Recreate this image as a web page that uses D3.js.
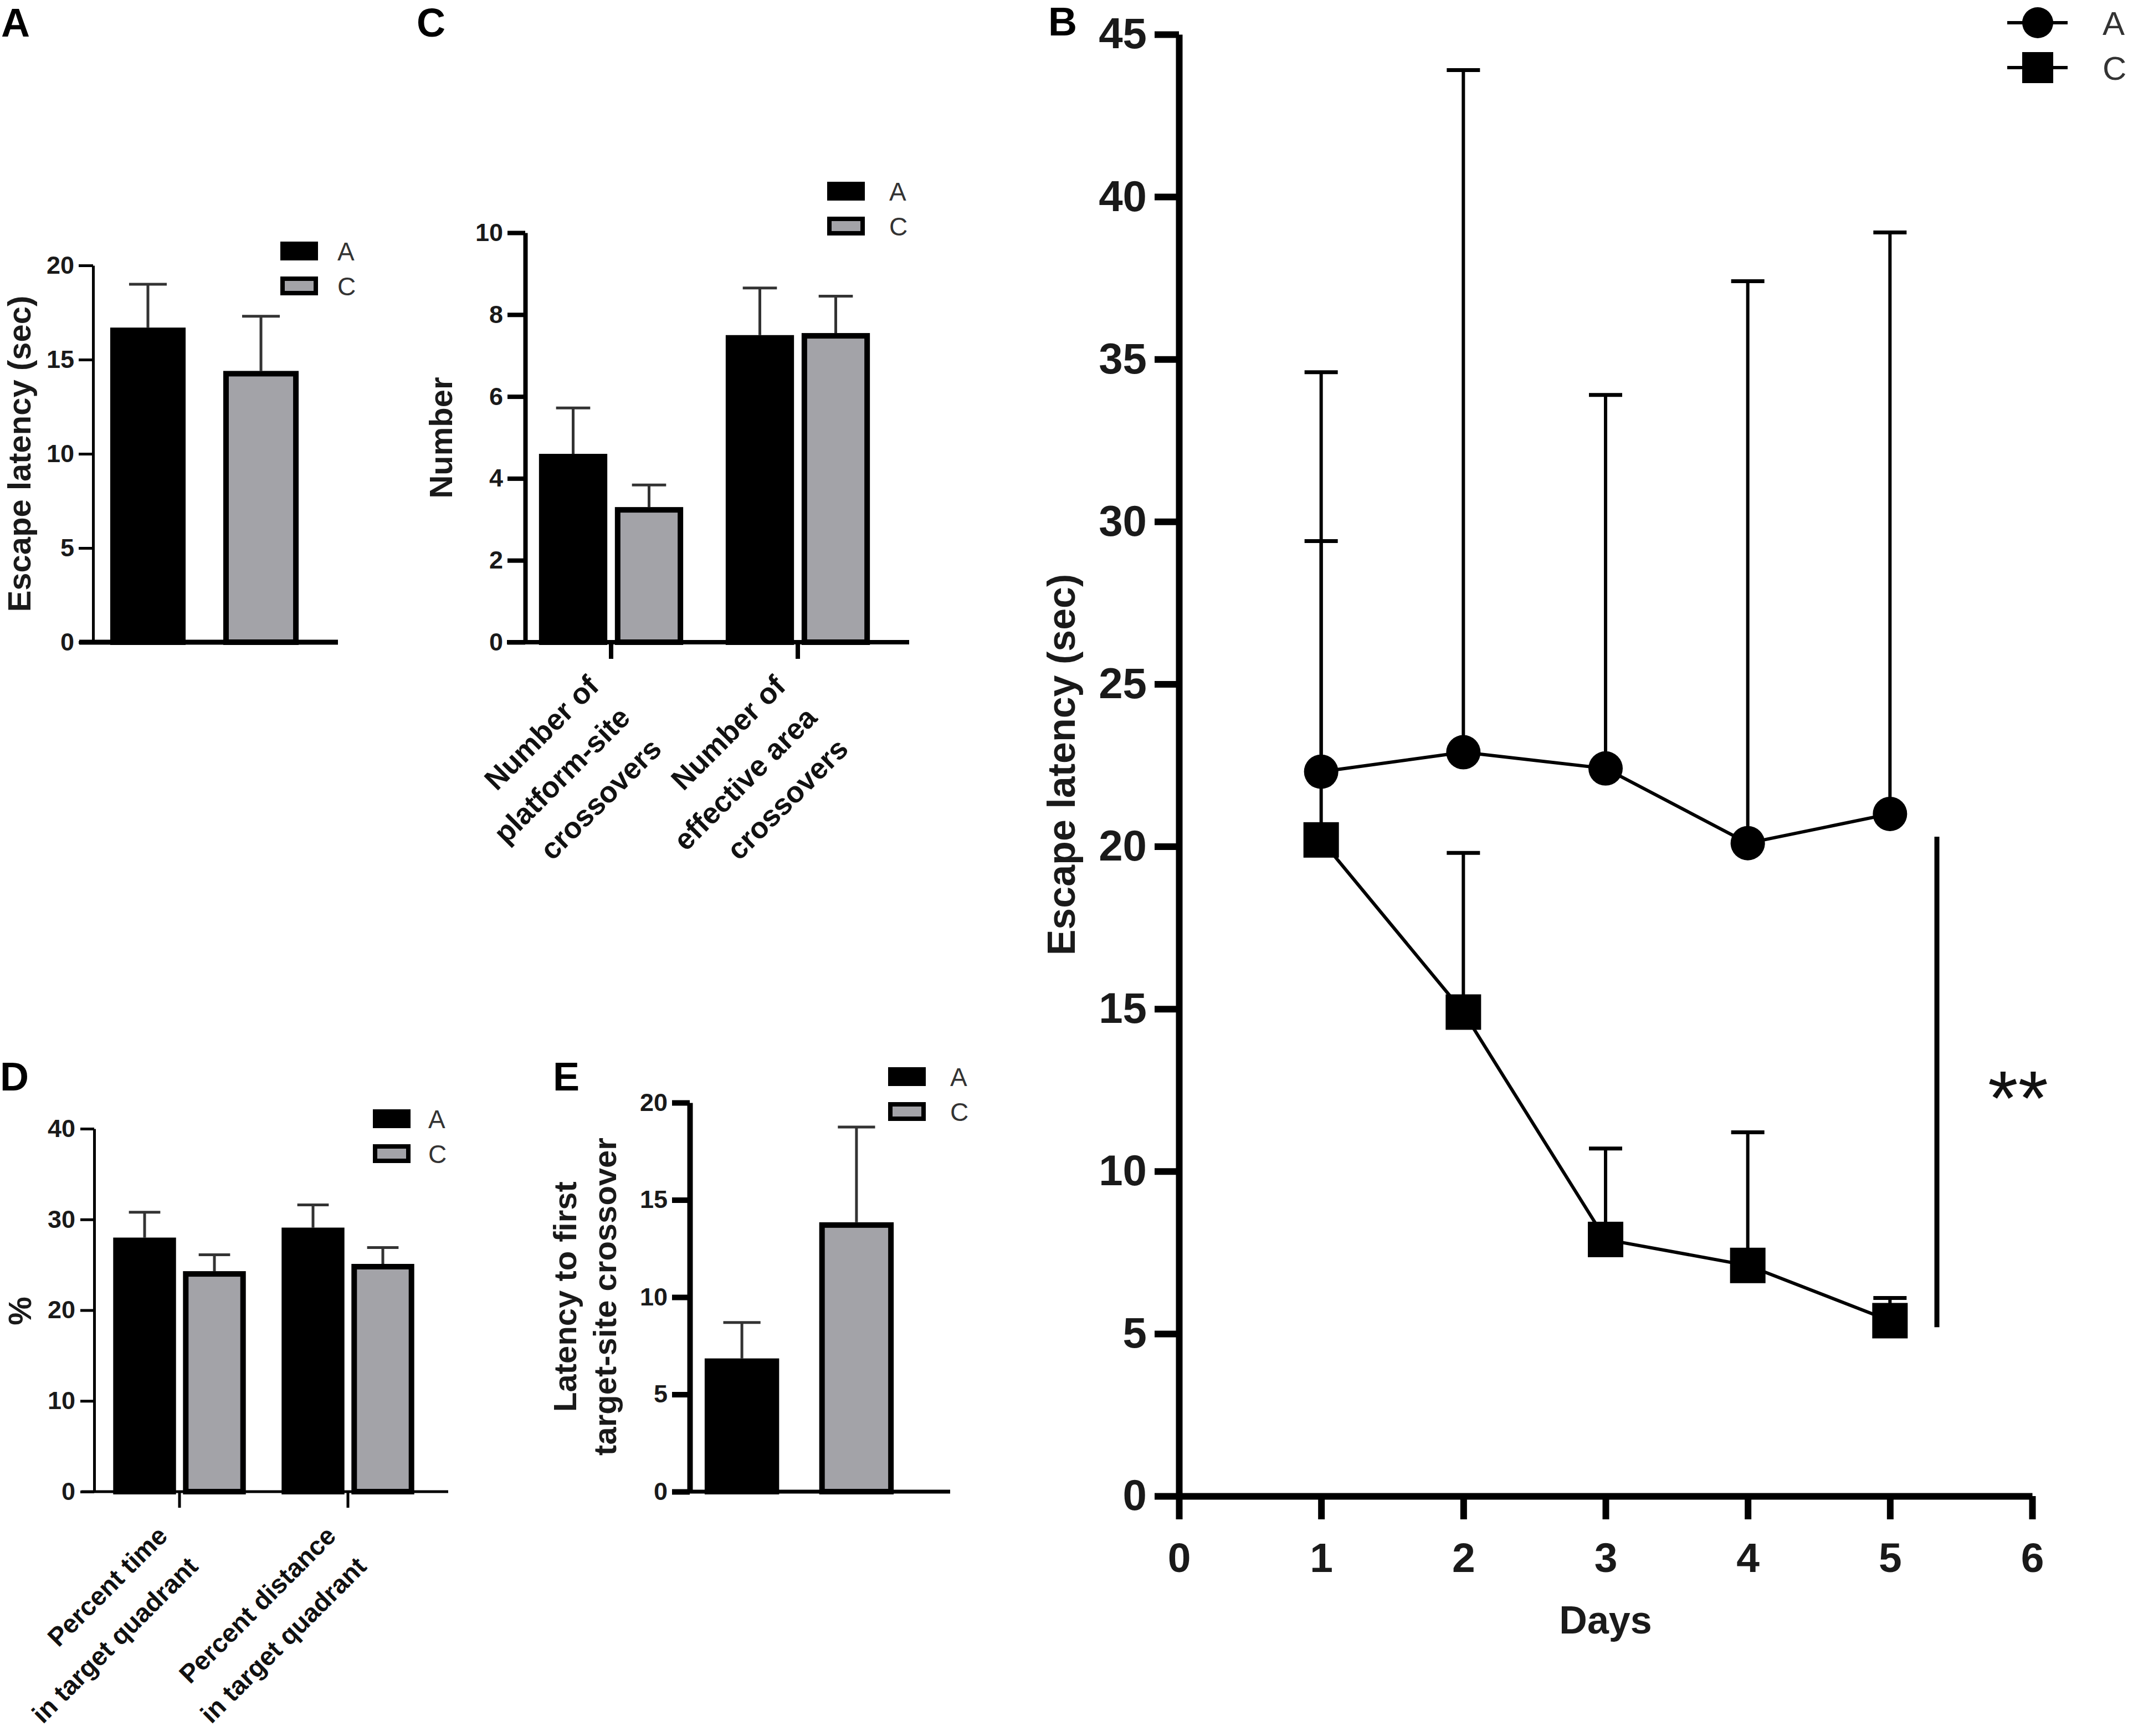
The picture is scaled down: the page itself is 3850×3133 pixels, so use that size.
<!DOCTYPE html>
<html>
<head>
<meta charset="utf-8">
<script src="https://cdn.jsdelivr.net/npm/d3@7"></script>
<style>
  body { margin: 0; background: #fff; }
  svg { display: block; }
</style>
</head>
<body>
<div id="container"></div>
<script>
const width = 3850;
const height = 3133;
const FONT = "'Liberation Sans', Arial, Helvetica, sans-serif";

// groups
const groups = ["A", "C"];
const groupFill = { A: "#000000", C: "#a3a3a8" };

// panel A - escape latency (probe)
const latencyTicks = [0, 5, 10, 15, 20];
const latencyMean = [16.7, 14.4];
const latencyErr = [2.3, 2.9];

// panel C - crossovers
const crossCats = [["Number of", "platform-site", "crossovers"], ["Number of", "effective area", "crossovers"]];
const crossTicks = [0, 2, 4, 6, 8, 10];
const crossA = [4.6, 7.5];
const crossAErr = [1.12, 1.15];
const crossC = [3.3, 7.55];
const crossCErr = [0.54, 0.9];

// panel D - target quadrant
const quadCats = [["Percent time", "in target quadrant"], ["Percent distance", "in target quadrant"]];
const quadTicks = [0, 10, 20, 30, 40];
const quadA = [28.0, 29.1];
const quadAErr = [2.8, 2.5];
const quadC = [24.3, 25.1];
const quadCErr = [1.8, 1.8];

// panel E - latency to first crossover
const firstTicks = [0, 5, 10, 15, 20];
const firstMean = [6.85, 13.85];
const firstErr = [1.85, 4.9];

// panel B - escape latency per day
const days = [1, 2, 3, 4, 5];
const dayTicks = [0, 1, 2, 3, 4, 5, 6];
const latTicksB = [0, 5, 10, 15, 20, 25, 30, 35, 40, 45];
const dayA = [22.3, 22.9, 22.4, 20.1, 21.0];
const dayAErr = [12.3, 21.0, 11.5, 17.3, 17.9];
const dayC = [20.2, 14.9, 7.9, 7.1, 5.4];
const dayCErr = [9.2, 4.9, 2.8, 4.1, 0.7];
const sigSpan = [5.2, 20.3];
const sigDay = 5.33;

const svg = d3.select("#container")
  .append("svg")
  .attr("width", width)
  .attr("height", height)
  .attr("font-family", FONT);
svg.append("rect").attr("width", width).attr("height", height).attr("fill", "#fff");

// panel letters
function panelLetter(t, x, y) {
  svg.append("text").attr("x", x).attr("y", y)
    .attr("font-size", 72).attr("font-weight", "bold").attr("fill", "#000").text(t);
}
panelLetter("A", 2, 66);
panelLetter("C", 752, 66);
panelLetter("B", 1892, 64);
panelLetter("D", 0, 1968);
panelLetter("E", 998, 1968);

function styleAxis(g, w, fs, col) {
  g.attr("font-family", FONT).attr("font-size", null);
  g.select(".domain").attr("stroke", "#000").attr("stroke-width", w);
  g.selectAll(".tick line").attr("stroke", "#000").attr("stroke-width", w);
  g.selectAll(".tick text").attr("font-size", fs).attr("font-weight", "bold").attr("fill", col || "#1a1a1a");
}

function vTitle(lines, cx, cy, fs, lh) {
  const t = svg.append("text")
    .attr("transform", `translate(${cx},${cy}) rotate(-90)`)
    .attr("text-anchor", "middle").attr("font-size", fs).attr("font-weight", "bold").attr("fill", "#1a1a1a");
  lines.forEach((s, i) => {
    t.append("tspan").attr("x", 0).attr("y", (i - (lines.length - 1) / 2) * lh).attr("dy", "0.35em").text(s);
  });
}

function legend(x, y, textX) {
  const g = svg.append("g");
  groups.forEach((s, i) => {
    g.append("rect").attr("x", x + 4).attr("y", y + i * 63 + 4).attr("width", 60).attr("height", 26)
      .attr("fill", groupFill[s]).attr("stroke", "#000").attr("stroke-width", 8);
    g.append("text").attr("x", textX).attr("y", y + i * 63 + 34)
      .attr("font-size", 46).attr("fill", "#333").text(s);
  });
}

function drawBars(g, bars, y) {
  const cx = d => d.x + d.w / 2;
  g.selectAll(null).data(bars).join("line")
    .attr("x1", cx).attr("x2", cx)
    .attr("y1", d => y(d.v)).attr("y2", d => y(d.v + d.e))
    .attr("stroke", "#333").attr("stroke-width", 5);
  g.selectAll(null).data(bars).join("line")
    .attr("x1", d => cx(d) - d.w * 0.25).attr("x2", d => cx(d) + d.w * 0.25)
    .attr("y1", d => y(d.v + d.e)).attr("y2", d => y(d.v + d.e))
    .attr("stroke", "#333").attr("stroke-width", 5);
  g.selectAll(null).data(bars).join("rect")
    .attr("x", d => d.x + 5).attr("width", d => d.w - 10)
    .attr("y", d => y(d.v) + 5).attr("height", d => y(0) - y(d.v) - 5)
    .attr("fill", d => groupFill[d.s]).attr("stroke", "#000").attr("stroke-width", 10);
}

function baseLine(g, x1, x2, y0, w) {
  g.append("line").attr("x1", x1).attr("x2", x2).attr("y1", y0).attr("y2", y0)
    .attr("stroke", "#000").attr("stroke-width", w);
}

function catLabels(g, x0, cats, y0, fs, lh) {
  cats.forEach((lines, i) => {
    const t = g.append("text")
      .attr("transform", `translate(${x0(i) + x0.bandwidth() / 2},${y0}) rotate(-45)`)
      .attr("text-anchor", "end").attr("font-size", fs).attr("font-weight", "bold").attr("fill", "#111");
    lines.forEach((s, j) => t.append("tspan").attr("x", -72).attr("y", 45 + j * lh).text(s));
  });
}

// ---------- panel A ----------
{
  const g = svg.append("g");
  const y = d3.scaleLinear().domain([0, 20]).range([1159, 479]);
  const x = d3.scaleBand().domain(groups).range([131, 607]).padding(0.333);
  const bars = groups.map((s, i) => ({ s, x: x(s), w: x.bandwidth(), v: latencyMean[i], e: latencyErr[i] }));
  drawBars(g, bars, y);
  baseLine(g, 143, 610, y(0), 9);
  g.append("g").attr("transform", "translate(168,0)")
    .call(d3.axisLeft(y).tickValues(latencyTicks).tickSize(26).tickPadding(8).tickSizeOuter(0))
    .call(a => styleAxis(a, 5, 45));
  vTitle(["Escape latency (sec)"], 35, 819, 58, 0);
  legend(506, 436, 609);
}

// ---------- panel C ----------
{
  const g = svg.append("g");
  const y = d3.scaleLinear().domain([0, 10]).range([1159, 420]);
  const x0 = d3.scaleBand().domain(d3.range(crossCats.length)).range([966, 1577]).paddingInner(0.187).paddingOuter(0);
  const x1 = d3.scaleBand().domain(groups).range([0, x0.bandwidth()]).paddingInner(0.1).paddingOuter(0.05);
  const bars = [];
  crossCats.forEach((c, i) => {
    bars.push({ s: "A", x: x0(i) + x1("A"), w: x1.bandwidth(), v: crossA[i], e: crossAErr[i] });
    bars.push({ s: "C", x: x0(i) + x1("C"), w: x1.bandwidth(), v: crossC[i], e: crossCErr[i] });
  });
  drawBars(g, bars, y);
  baseLine(g, 915, 1641, y(0), 8);
  g.append("g").attr("transform", `translate(0,${y(0)})`)
    .call(d3.axisBottom(x0).tickSize(30).tickFormat("").tickSizeOuter(0))
    .call(a => { styleAxis(a, 8, 45); a.select(".domain").remove(); })
    .selectAll(".tick").attr("transform", d => `translate(${x0(d) + x0.bandwidth() / 2},0)`);
  g.append("g").attr("transform", "translate(948,0)")
    .call(d3.axisLeft(y).tickValues(crossTicks).tickSize(32).tickPadding(8).tickSizeOuter(0))
    .call(a => styleAxis(a, 8, 45));
  catLabels(g, x0, crossCats, y(0), 53, 80);
  vTitle(["Number"], 796, 790, 58, 0);
  legend(1493, 328, 1605);
}

// ---------- panel D ----------
{
  const g = svg.append("g");
  const y = d3.scaleLinear().domain([0, 40]).range([2692, 2037]);
  const x0 = d3.scaleBand().domain(d3.range(quadCats.length)).range([198, 754]).paddingInner(0.171).paddingOuter(0);
  const x1 = d3.scaleBand().domain(groups).range([0, x0.bandwidth()]).paddingInner(0.1).paddingOuter(0.05);
  const bars = [];
  quadCats.forEach((c, i) => {
    bars.push({ s: "A", x: x0(i) + x1("A"), w: x1.bandwidth(), v: quadA[i], e: quadAErr[i] });
    bars.push({ s: "C", x: x0(i) + x1("C"), w: x1.bandwidth(), v: quadC[i], e: quadCErr[i] });
  });
  drawBars(g, bars, y);
  baseLine(g, 147, 809, y(0), 5);
  g.append("g").attr("transform", `translate(0,${y(0)})`)
    .call(d3.axisBottom(x0).tickSize(29).tickFormat("").tickSizeOuter(0))
    .call(a => { styleAxis(a, 5, 45); a.select(".domain").remove(); })
    .selectAll(".tick").attr("transform", d => `translate(${x0(d) + x0.bandwidth() / 2},0)`);
  g.append("g").attr("transform", "translate(170,0)")
    .call(d3.axisLeft(y).tickValues(quadTicks).tickSize(25).tickPadding(9).tickSizeOuter(0))
    .call(a => styleAxis(a, 5, 45));
  catLabels(g, x0, quadCats, y(0), 47, 78);
  vTitle(["%"], 36, 2366, 58, 0);
  legend(673, 2002, 773);
}

// ---------- panel E ----------
{
  const g = svg.append("g");
  const y = d3.scaleLinear().domain([0, 20]).range([2692, 1990]);
  const x = d3.scaleBand().domain(groups).range([1199.5, 1685.5]).padding(0.35);
  const bars = groups.map((s, i) => ({ s, x: x(s), w: x.bandwidth(), v: firstMean[i], e: firstErr[i] }));
  drawBars(g, bars, y);
  baseLine(g, 1213, 1715, y(0), 7);
  g.append("g").attr("transform", "translate(1245,0)")
    .call(d3.axisLeft(y).tickValues(firstTicks).tickSize(32).tickPadding(8).tickSizeOuter(0))
    .call(a => styleAxis(a, 10, 45));
  vTitle(["Latency to first", "target-site crossover"], 1056, 2340, 58, 72);
  legend(1603, 1926, 1715);
}

// ---------- panel B ----------
{
  const g = svg.append("g");
  const x = d3.scaleLinear().domain([0, 6]).range([2128, 3668]);
  const y = d3.scaleLinear().domain([0, 45]).range([2700, 62]);

  g.append("g").attr("transform", `translate(0,${y(0)})`)
    .call(d3.axisBottom(x).tickValues(dayTicks).tickFormat(d3.format("d")).tickSize(42).tickPadding(42).tickSizeOuter(0))
    .call(a => styleAxis(a, 12, 75));
  g.append("g").attr("transform", `translate(${x(0)},0)`)
    .call(d3.axisLeft(y).tickValues(latTicksB).tickSize(44).tickPadding(14).tickSizeOuter(0))
    .call(a => styleAxis(a, 12, 78));

  const series = [
    { s: "A", mean: dayA, err: dayAErr },
    { s: "C", mean: dayC, err: dayCErr }
  ];
  const line = d3.line().x(d => x(d.day)).y(d => y(d.v));
  const pts = series.map(sr => days.map((day, i) => ({ day, v: sr.mean[i], e: sr.err[i], s: sr.s })));
  const allPts = pts.flat();

  // error bars (upper only)
  g.selectAll(null).data(allPts).join("line")
    .attr("x1", d => x(d.day)).attr("x2", d => x(d.day))
    .attr("y1", d => y(d.v)).attr("y2", d => y(d.v + d.e))
    .attr("stroke", "#000").attr("stroke-width", 6);
  g.selectAll(null).data(allPts).join("line")
    .attr("x1", d => x(d.day) - 30).attr("x2", d => x(d.day) + 30)
    .attr("y1", d => y(d.v + d.e)).attr("y2", d => y(d.v + d.e))
    .attr("stroke", "#000").attr("stroke-width", 7);

  g.selectAll(null).data(pts).join("path")
    .attr("d", line).attr("fill", "none").attr("stroke", "#000").attr("stroke-width", 6);

  g.selectAll(null).data(pts[0]).join("circle")
    .attr("cx", d => x(d.day)).attr("cy", d => y(d.v)).attr("r", 31).attr("fill", "#000");
  g.selectAll(null).data(pts[1]).join("rect")
    .attr("x", d => x(d.day) - 32).attr("y", d => y(d.v) - 32)
    .attr("width", 64).attr("height", 64).attr("fill", "#000");

  // significance
  g.append("line")
    .attr("x1", x(sigDay)).attr("x2", x(sigDay))
    .attr("y1", y(sigSpan[1])).attr("y2", y(sigSpan[0]))
    .attr("stroke", "#000").attr("stroke-width", 9);
  g.append("text").attr("x", x(sigDay) + 92).attr("y", 2030)
    .attr("font-size", 140).attr("fill", "#111").text("**");

  // axis titles
  vTitle(["Escape latency (sec)"], 1915, 1380, 70, 0);
  g.append("text").attr("x", x(3)).attr("y", 2948).attr("text-anchor", "middle")
    .attr("font-size", 70).attr("font-weight", "bold").attr("fill", "#1a1a1a").text("Days");

  // legend
  groups.forEach((s, i) => {
    const ly = 41 + i * 81;
    g.append("line").attr("x1", 3623).attr("x2", 3732).attr("y1", ly).attr("y2", ly)
      .attr("stroke", "#000").attr("stroke-width", 6);
    if (s === "A") {
      g.append("circle").attr("cx", 3678).attr("cy", ly).attr("r", 28).attr("fill", "#000");
    } else {
      g.append("rect").attr("x", 3650).attr("y", ly - 28).attr("width", 56).attr("height", 56).attr("fill", "#000");
    }
    g.append("text").attr("x", 3795).attr("y", ly + 22).attr("font-size", 60).attr("fill", "#333").text(s);
  });
}
</script>
</body>
</html>
